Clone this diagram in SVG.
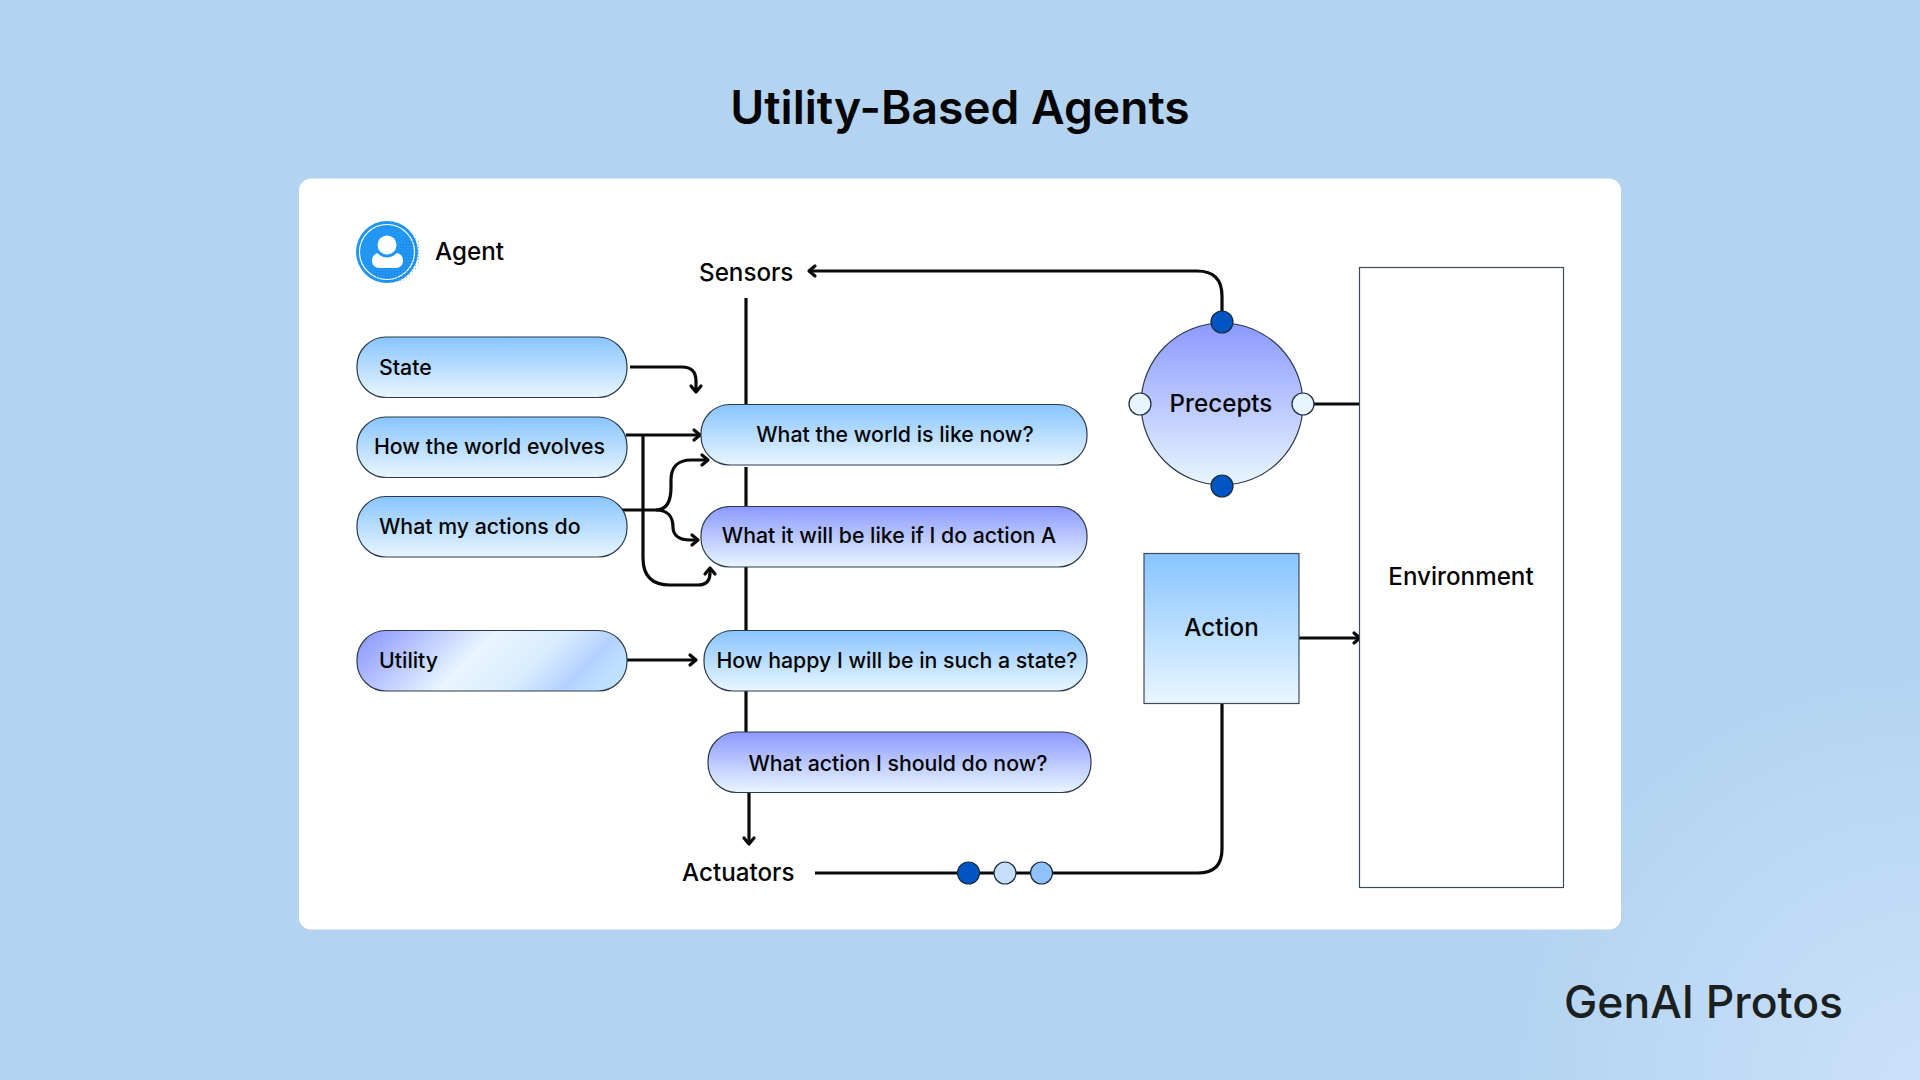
<svg xmlns="http://www.w3.org/2000/svg" width="1920" height="1080" viewBox="0 0 1920 1080">
<defs>
<linearGradient id="gBlue" x1="0" y1="0" x2="0" y2="1"><stop offset="0" stop-color="#88c4ff"/><stop offset="1" stop-color="#e9f6ff"/></linearGradient>
<linearGradient id="gPurple" x1="0" y1="0" x2="0" y2="1"><stop offset="0" stop-color="#8c99ff"/><stop offset="1" stop-color="#e8f6ff"/></linearGradient>
<linearGradient id="gUtility" gradientUnits="userSpaceOnUse" x1="350" y1="650" x2="493" y2="793"><stop offset="0" stop-color="#8f9bff"/><stop offset="0.45" stop-color="#e8f6ff"/><stop offset="0.7" stop-color="#d8ecff"/><stop offset="0.88" stop-color="#b4d0ff"/><stop offset="1" stop-color="#c0e0ff"/></linearGradient>
<radialGradient id="gBg" gradientUnits="userSpaceOnUse" cx="1920" cy="1080" r="420"><stop offset="0" stop-color="#cbe1fa"/><stop offset="1" stop-color="#b3d3f0"/></radialGradient>
<pattern id="dots" width="3" height="3" patternUnits="userSpaceOnUse"><circle cx="1.5" cy="1.5" r="0.7" fill="#1565c0"/></pattern>
<style>
text{font-family:Inter,"Liberation Sans",sans-serif;fill:#050505;font-size:21.300px;font-weight:450}
.lg{font-size:24.200px}
.mid{text-anchor:middle}
.pill{stroke:#2c3a4c;stroke-width:1.2}
.box{stroke:#3c4a5c;stroke-width:1.2}
.line{fill:none;stroke:#0a0a0a;stroke-width:3.200}
.arrow{fill:none;stroke:#0a0a0a;stroke-width:3.200;stroke-linecap:round;stroke-linejoin:round}
.dot{stroke:#1f2a3a;stroke-width:1.2}
</style>
</defs>
<rect width="1920" height="1080" fill="url(#gBg)"/>
<rect x="299" y="178.500" width="1322" height="751" rx="12" fill="#ffffff"/>
<text x="960" y="124" class="mid" style="font-size:46.200px;font-weight:600">Utility-Based Agents</text>

<g id="connectors">
<path class="line" d="M746 298V404M746 467V506M746 567V630M746 691V732"/>
<path class="line" d="M1222 322V296Q1222 271 1197 271H810"/>
<path class="arrow" d="M815 266L809 271L815 276"/>
<path class="line" d="M630 367H682Q696 367 696 381V391"/>
<path class="arrow" d="M691 386L696 392L701 386"/>
<path class="line" d="M626 435H699"/>
<path class="arrow" d="M694 430L700 435L694 440"/>
<path class="line" d="M643 435V558Q643 585 670 585H698Q710 585 710 573V569"/>
<path class="arrow" d="M705 574L710 568L715 574"/>
<path class="line" d="M622 510H656C667 510 671 500 671 487V480C671 467 678 460 691 460H707"/>
<path class="arrow" d="M702 455L708 460L702 465"/>
<path class="line" d="M656 510C668 510 673 517 673 527C673 535 679 540 690 540H697"/>
<path class="arrow" d="M692 535L698 540L692 545"/>
<path class="line" d="M627 660H695"/>
<path class="arrow" d="M690 655L696 660L690 665"/>
<path class="line" d="M749 792V843"/>
<path class="arrow" d="M744 838L749 844L754 838"/>
<path class="line" d="M815 873H1198Q1222 873 1222 849V703"/>
<path class="line" d="M1303 404H1359"/>
<path class="line" d="M1299 638H1359"/>
<path class="arrow" d="M1354 633L1360 638L1354 643"/>
</g>

<g id="agent">
<circle cx="387" cy="252" r="31" fill="#2196f3"/>
<circle cx="387" cy="252" r="27.500" fill="#2196f3" stroke="#ffffff" stroke-width="1.2"/>
<path d="M412 232A27 27 0 0 1 372 275Z" fill="url(#dots)" opacity="0.45"/>
<rect x="372" y="253" width="31" height="15" rx="7" fill="#ffffff"/>
<circle cx="387" cy="245" r="12.500" fill="#2196f3"/>
<circle cx="387" cy="245" r="9.500" fill="#ffffff"/>
<text x="435" y="260" class="lg">Agent</text>
</g>
<g id="state"><rect class="pill" x="357" y="337" width="270" height="60.500" rx="29" fill="url(#gBlue)"/><text x="379" y="375">State</text></g>
<g id="evolves"><rect class="pill" x="357" y="417" width="270" height="60.500" rx="29" fill="url(#gBlue)"/><text x="374" y="454">How the world evolves</text></g>
<g id="actions"><rect class="pill" x="357" y="496.500" width="270" height="60.500" rx="29" fill="url(#gBlue)"/><text x="379" y="534">What my actions do</text></g>
<g id="utility"><rect class="pill" x="357" y="630.500" width="270" height="60.500" rx="29" fill="url(#gUtility)"/><text x="379" y="668">Utility</text></g>
<g id="world-now"><rect class="pill" x="701" y="404.500" width="386" height="60.500" rx="29" fill="url(#gBlue)"/><text x="895" y="442" class="mid">What the world is like now?</text></g>
<g id="action-a"><rect class="pill" x="701" y="506.500" width="386" height="60.500" rx="29" fill="url(#gPurple)"/><text x="889" y="543" class="mid">What it will be like if I do action A</text></g>
<g id="happy"><rect class="pill" x="704" y="630.500" width="383" height="60.500" rx="29" fill="url(#gBlue)"/><text x="897" y="668" class="mid">How happy I will be in such a state?</text></g>
<g id="should"><rect class="pill" x="708" y="732" width="383" height="60.500" rx="29" fill="url(#gPurple)"/><text x="898" y="771" class="mid">What action I should do now?</text></g>

<g id="sensors"><text x="699" y="281" class="lg">Sensors</text></g>
<g id="actuators"><text x="682" y="881" class="lg">Actuators</text></g>
<g id="precepts">
<circle class="pill" cx="1222" cy="404" r="81" fill="url(#gPurple)"/>
<circle class="dot" cx="1222" cy="322" r="11" fill="#0055c4"/>
<circle class="dot" cx="1222" cy="486" r="11" fill="#0055c4"/>
<circle class="dot" cx="1140" cy="404" r="11" fill="#e8f5ff"/>
<circle class="dot" cx="1303" cy="404" r="11" fill="#e8f5ff"/>
<text x="1221" y="412" class="mid lg">Precepts</text>
</g>
<g id="action"><rect class="box" x="1144" y="553.500" width="155" height="150" fill="url(#gBlue)"/><text x="1221.500" y="636" class="mid lg">Action</text></g>
<g id="environment"><rect class="box" x="1359.500" y="267.500" width="204" height="620" fill="#ffffff"/><text x="1461" y="585" class="mid lg">Environment</text></g>
<g id="transfer">
<circle class="dot" cx="968.500" cy="873" r="11" fill="#0055c4"/>
<circle class="dot" cx="1005" cy="873" r="11" fill="#c5dffb"/>
<circle class="dot" cx="1041.500" cy="873" r="11" fill="#8ec2f8"/>
</g>
<g id="logo"><text x="1564" y="1018" style="font-size:44.500px;font-weight:500;fill:#1b1f1f">GenAI Protos</text></g>
</svg>
